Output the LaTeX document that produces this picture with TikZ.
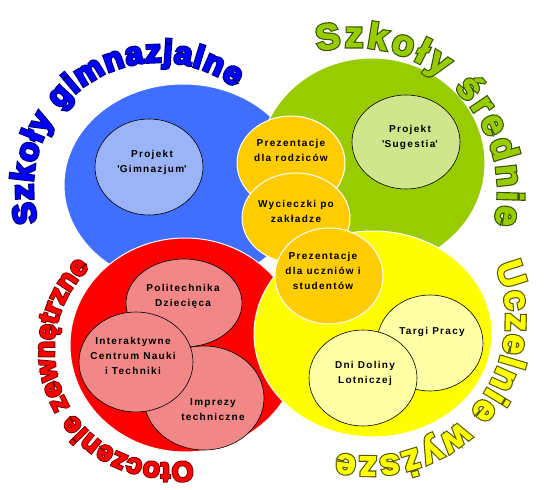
\documentclass[tikz,border=0pt]{standalone}
\usepackage{fontspec}
\usetikzlibrary{decorations.text}
\setmainfont{Liberation Sans}
\newfontfamily\boxfont{Liberation Sans Bold}[LetterSpace=13]
\newfontfamily\arcfont{Liberation Sans Bold}[FakeBold=2.5]
\newfontfamily\arcedge{Liberation Sans Bold}[FakeBold=9]

\definecolor{bleu}{RGB}{64,110,255}
\definecolor{vert}{RGB}{153,204,0}
\definecolor{rouge}{RGB}{255,0,0}
\definecolor{jaune}{RGB}{255,255,0}
\definecolor{ambre}{RGB}{255,204,0}
\definecolor{bleuclair}{RGB}{155,180,248}
\definecolor{vertclair}{RGB}{207,230,140}
\definecolor{rougeclair}{RGB}{242,135,135}
\definecolor{jauneclair}{RGB}{255,255,165}
\definecolor{bleufonce}{RGB}{0,0,110}
\definecolor{vertfonce}{RGB}{55,85,0}
\definecolor{rougefonce}{RGB}{110,0,0}
\definecolor{jaunefonce}{RGB}{90,90,0}

\tikzset{
  grand/.style={draw=white, line width=1pt},
  hachure/.style={draw=black, line width=0.6pt},
  bulle/.style={draw=white, line width=1pt, fill=ambre},
  texte/.style={font=\boxfont\fontsize{10}{15}\selectfont, align=center, text=black, inner sep=0pt},
}

\begin{document}
\begin{tikzpicture}[x=1pt,y=-1pt]

\useasboundingbox (0,0) rectangle (550,490);

% grands cercles

\draw[grand,fill=bleu] (183,185) ellipse [x radius=119, y radius=101];
\draw[grand,fill=vert] (372,163) ellipse [x radius=113, y radius=105];
\draw[grand,fill=rouge] (185,345) ellipse [x radius=115, y radius=107];
\draw[grand,fill=jaune] (373,334) ellipse [x radius=119, y radius=103];

% cercles hachurés

\draw[hachure,fill=bleuclair] (149,167) ellipse [x radius=54, y radius=48];
\draw[hachure,fill=vertclair] (406,142) ellipse [x radius=54, y radius=47];
\draw[hachure,fill=rougeclair] (184,303) ellipse [x radius=58, y radius=44];
\draw[hachure,fill=rougeclair] (204,398) ellipse [x radius=60, y radius=52];
\draw[hachure,fill=rougeclair] (136,362) ellipse [x radius=57, y radius=50];
\draw[hachure,fill=jauneclair] (430,343) ellipse [x radius=53, y radius=48];
\draw[hachure,fill=jauneclair] (363,378) ellipse [x radius=54, y radius=48];

% bulles du milieu

\draw[bulle] (291,163) ellipse [x radius=54, y radius=47];
\draw[bulle] (296,218) ellipse [x radius=54, y radius=45];
\draw[bulle] (329,276) ellipse [x radius=54, y radius=48];

% textes

\node[texte] (gimn) at (152,162) {Projekt\\\textquotesingle Gimnazjum\textquotesingle};
\node[texte] (sug) at (410,137) {Projekt\\\textquotesingle Sugestia\textquotesingle};
\node[texte] (poli) at (183,296) {Politechnika\\Dziecięca};
\node[texte] (inter) at (133,356) {Interaktywne\\Centrum Nauki\\i Techniki};
\node[texte] (impr) at (213,410) {Imprezy\\techniczne};
\node[texte] (targi) at (432,332) {Targi Pracy};
\node[texte] (dni) at (365,373) {Dni Doliny\\Lotniczej};
\node[texte] (rodz) at (291,150) {Prezentacje\\dla rodziców};
\node[texte] (wyc) at (296,211) {Wycieczki po\\zakładze};
\node[texte] (uczn) at (323,271) {Prezentacje\\dla uczniów i\\studentów};

% titres en arc (contour foncé puis lettres)

\path[decorate,decoration={text along path,text align=fit to path,
  text={|\arcedge\fontsize{32}{32}\selectfont\color{bleufonce}|Szkoły gimnazjalne}}]
  (159,188) ++(164.4:126) arc [start angle=164.4, end angle=307.1, radius=126];
\path[decorate,decoration={text along path,text align=fit to path,
  text={|\arcfont\fontsize{32}{32}\selectfont\color{blue}|Szkoły gimnazjalne}}]
  (159,188) ++(164.4:126) arc [start angle=164.4, end angle=307.1, radius=126];

\path[decorate,decoration={text along path,text align=fit to path,
  text={|\arcedge\fontsize{36}{36}\selectfont\color{vertfonce}|Szkoły średnie}}]
  (353,192) ++(-104:145) arc [start angle=-104, end angle=12.8, radius=145];
\path[decorate,decoration={text along path,text align=fit to path,
  text={|\arcfont\fontsize{36}{36}\selectfont\color{vert}|Szkoły średnie}}]
  (353,192) ++(-104:145) arc [start angle=-104, end angle=12.8, radius=145];

\path[decorate,decoration={text along path,text align=fit to path,
  text={|\arcedge\fontsize{36}{36}\selectfont\color{jaunefonce}|Uczelnie wyższe}}]
  (368.5,319) ++(-23:137.6) arc [start angle=-23, end angle=103, radius=137.6];
\path[decorate,decoration={text along path,text align=fit to path,
  text={|\arcfont\fontsize{36}{36}\selectfont\color{jaune}|Uczelnie wyższe}}]
  (368.5,319) ++(-23:137.6) arc [start angle=-23, end angle=103, radius=137.6];

\path[decorate,decoration={text along path,text align=fit to path,
  text={|\arcedge\fontsize{28}{28}\selectfont\color{rougefonce}|Otoczenie zewnętrzne}}]
  (167,350) ++(77.2:113) arc [start angle=77.2, end angle=226.8, radius=113];
\path[decorate,decoration={text along path,text align=fit to path,
  text={|\arcfont\fontsize{28}{28}\selectfont\color{rouge}|Otoczenie zewnętrzne}}]
  (167,350) ++(77.2:113) arc [start angle=77.2, end angle=226.8, radius=113];

\end{tikzpicture}
\end{document}
